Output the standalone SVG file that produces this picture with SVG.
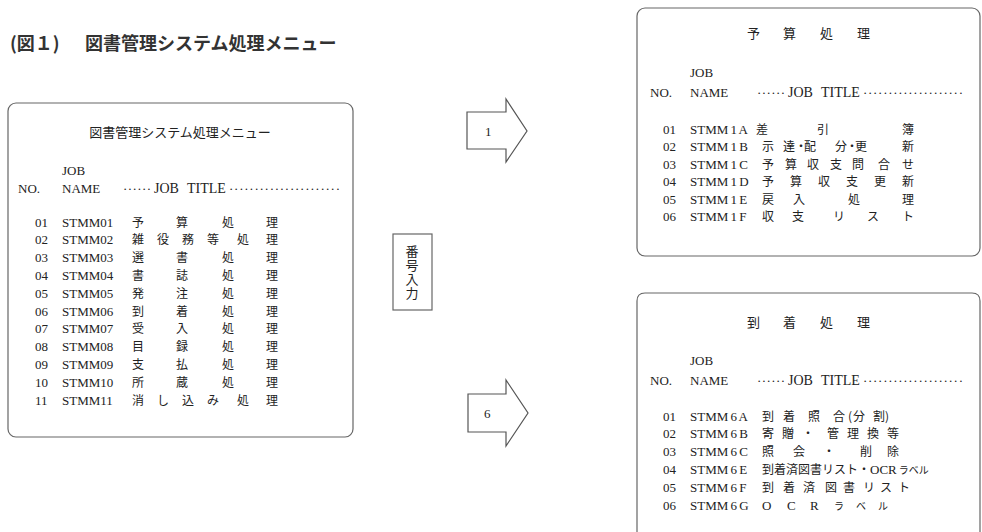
<svg xmlns="http://www.w3.org/2000/svg" width="982" height="532" viewBox="0 0 982 532">
<style>
text{font-family:"Liberation Serif","Noto Sans CJK JP",serif;font-size:13px;fill:#222}
.jp{font-family:"Noto Sans CJK JP",sans-serif;font-size:12px}
.hd{font-family:"Noto Sans CJK JP",sans-serif;font-size:13px}
.jt{font-family:"Liberation Serif",serif;font-size:14px}
.sm{font-size:10px}
.ttl{font-family:"Noto Sans CJK JP",sans-serif;font-size:18px;font-weight:bold;fill:#333}
.box{fill:#fff;stroke:#666;stroke-width:1.2}
.arrow{fill:#fff;stroke:#555;stroke-width:1.2}
</style>
<rect width="982" height="532" fill="#fff"/>
<g id="title">
<text class="ttl" x="10" y="50">(図１)</text>
<text class="ttl" x="85" y="50">図書管理システム処理メニュー</text>
</g>
<g id="menu">
<rect class="box" x="8" y="103" width="345" height="334" rx="8"/>
<text class="hd" x="180" y="136.5" text-anchor="middle">図書管理システム処理メニュー</text>
<text x="62" y="174.5">JOB</text>
<text x="18" y="192.5">NO.</text><text x="62" y="192.5">NAME</text>
<text x="123" y="192.5" textLength="28" lengthAdjust="spacing">······</text>
<text class="jt" x="154" y="192.5">JOB</text>
<text class="jt" x="187" y="192.5">TITLE</text>
<text x="229" y="192.5" textLength="111" lengthAdjust="spacing">······················</text>
<text x="35" y="226.5">01</text><text x="62" y="226.5">STMM01</text><text class="jp" x="132 176 222 266" y="226.5">予算処理</text>
<text x="35" y="244.3">02</text><text x="62" y="244.3">STMM02</text><text class="jp" x="132 157 182 207 237 266" y="244.3">雑役務等処理</text>
<text x="35" y="262.1">03</text><text x="62" y="262.1">STMM03</text><text class="jp" x="132 176 222 266" y="262.1">選書処理</text>
<text x="35" y="279.9">04</text><text x="62" y="279.9">STMM04</text><text class="jp" x="132 176 222 266" y="279.9">書誌処理</text>
<text x="35" y="297.7">05</text><text x="62" y="297.7">STMM05</text><text class="jp" x="132 176 222 266" y="297.7">発注処理</text>
<text x="35" y="315.5">06</text><text x="62" y="315.5">STMM06</text><text class="jp" x="132 176 222 266" y="315.5">到着処理</text>
<text x="35" y="333.3">07</text><text x="62" y="333.3">STMM07</text><text class="jp" x="132 176 222 266" y="333.3">受入処理</text>
<text x="35" y="351.1">08</text><text x="62" y="351.1">STMM08</text><text class="jp" x="132 176 222 266" y="351.1">目録処理</text>
<text x="35" y="368.9">09</text><text x="62" y="368.9">STMM09</text><text class="jp" x="132 176 222 266" y="368.9">支払処理</text>
<text x="35" y="386.7">10</text><text x="62" y="386.7">STMM10</text><text class="jp" x="132 176 222 266" y="386.7">所蔵処理</text>
<text x="35" y="404.5">11</text><text x="62" y="404.5">STMM11</text><text class="jp" x="132 157 182 207 237 266" y="404.5">消し込み処理</text>
</g>
<g id="input">
<rect class="box" x="393" y="234" width="39" height="76"/>
<text class="hd" x="412" y="245" writing-mode="vertical-rl" letter-spacing="1">番号入力</text>
</g>
<g id="budget">
<rect class="box" x="637" y="8" width="343" height="248" rx="8"/>
<text class="hd" x="747 783 820 857" y="37.5">予算処理</text>
<text x="690" y="76.5">JOB</text>
<text x="650" y="96.5">NO.</text><text x="690" y="96.5">NAME</text>
<text x="757" y="96.5" textLength="28" lengthAdjust="spacing">······</text>
<text class="jt" x="788" y="96.5">JOB</text>
<text class="jt" x="821" y="96.5">TITLE</text>
<text x="863" y="96.5" textLength="100" lengthAdjust="spacing">····················</text>
<text x="663" y="133.5">01</text><text x="690" y="133.5" word-spacing="-1">STMM 1 A</text><text class="jp" x="756 817 902" y="133.5">差引簿</text>
<text x="663" y="151">02</text><text x="690" y="151" word-spacing="-1">STMM 1 B</text><text class="jp" x="762 783 795 804 835 846 855 902" y="151">示達・配分・更新</text>
<text x="663" y="168.5">03</text><text x="690" y="168.5" word-spacing="-1">STMM 1 C</text><text class="jp" x="762 785 807 830 852 878 902" y="168.5">予算収支問合せ</text>
<text x="663" y="186">04</text><text x="690" y="186" word-spacing="-1">STMM 1 D</text><text class="jp" x="762 790 818 846 874 902" y="186">予算収支更新</text>
<text x="663" y="203.5">05</text><text x="690" y="203.5" word-spacing="-1">STMM 1 E</text><text class="jp" x="762 793 848 902" y="203.5">戻入処理</text>
<text x="663" y="221">06</text><text x="690" y="221" word-spacing="-1">STMM 1 F</text><text class="jp" x="762 792 833 867 902" y="221">収支リスト</text>
</g>
<g id="arrival">
<path class="box" d="M637,540 V301 Q637,293 645,293 H972 Q980,293 980,301 V540"/>
<text class="hd" x="747 783 820 857" y="326.5">到着処理</text>
<text x="690" y="364.5">JOB</text>
<text x="650" y="384.5">NO.</text><text x="690" y="384.5">NAME</text>
<text x="757" y="384.5" textLength="28" lengthAdjust="spacing">······</text>
<text class="jt" x="788" y="384.5">JOB</text>
<text class="jt" x="821" y="384.5">TITLE</text>
<text x="863" y="384.5" textLength="100" lengthAdjust="spacing">····················</text>
<text x="663" y="420.5">01</text><text x="690" y="420.5" word-spacing="-1">STMM 6 A</text><text class="jp" x="762 783 808 833 848 853 873 885" y="420.5">到着照合(分割)</text>
<text x="663" y="438.3">02</text><text x="690" y="438.3" word-spacing="-1">STMM 6 B</text><text class="jp" x="762 782 802 827 847 867 887" y="438.3">寄贈・管理換等</text>
<text x="663" y="456.1">03</text><text x="690" y="456.1" word-spacing="-1">STMM 6 C</text><text class="jp" x="762 793 823 860 887" y="456.1">照会・削除</text>
<text x="663" y="473.9">04</text><text x="690" y="473.9" word-spacing="-1">STMM 6 E</text><text x="762" y="473.9"><tspan class="jp">到着済図書リスト・</tspan><tspan>OCR</tspan><tspan class="jp sm" dx="2">ラベル</tspan></text>
<text x="663" y="491.7">05</text><text x="690" y="491.7" word-spacing="-1">STMM 6 F</text><text class="jp" x="762 783 803 825 843 863 880 898" y="491.7">到着済図書リスト</text>
<text x="663" y="509.5">06</text><text x="690" y="509.5" word-spacing="-1">STMM 6 G</text><text x="762 787 810" y="509.5">OCR</text><text class="jp sm" x="834 856 878" y="509.5">ラベル</text>
</g>
<g id="connectors">
<polygon class="arrow" points="467,112 506,112 506,99 527,131 506,162 506,149 467,149"/>
<text x="485" y="136">1</text>
<polygon class="arrow" points="468,394 506,394 506,380 528,413 506,446 506,432 468,432"/>
<text x="484" y="418">6</text>
</g>
</svg>
